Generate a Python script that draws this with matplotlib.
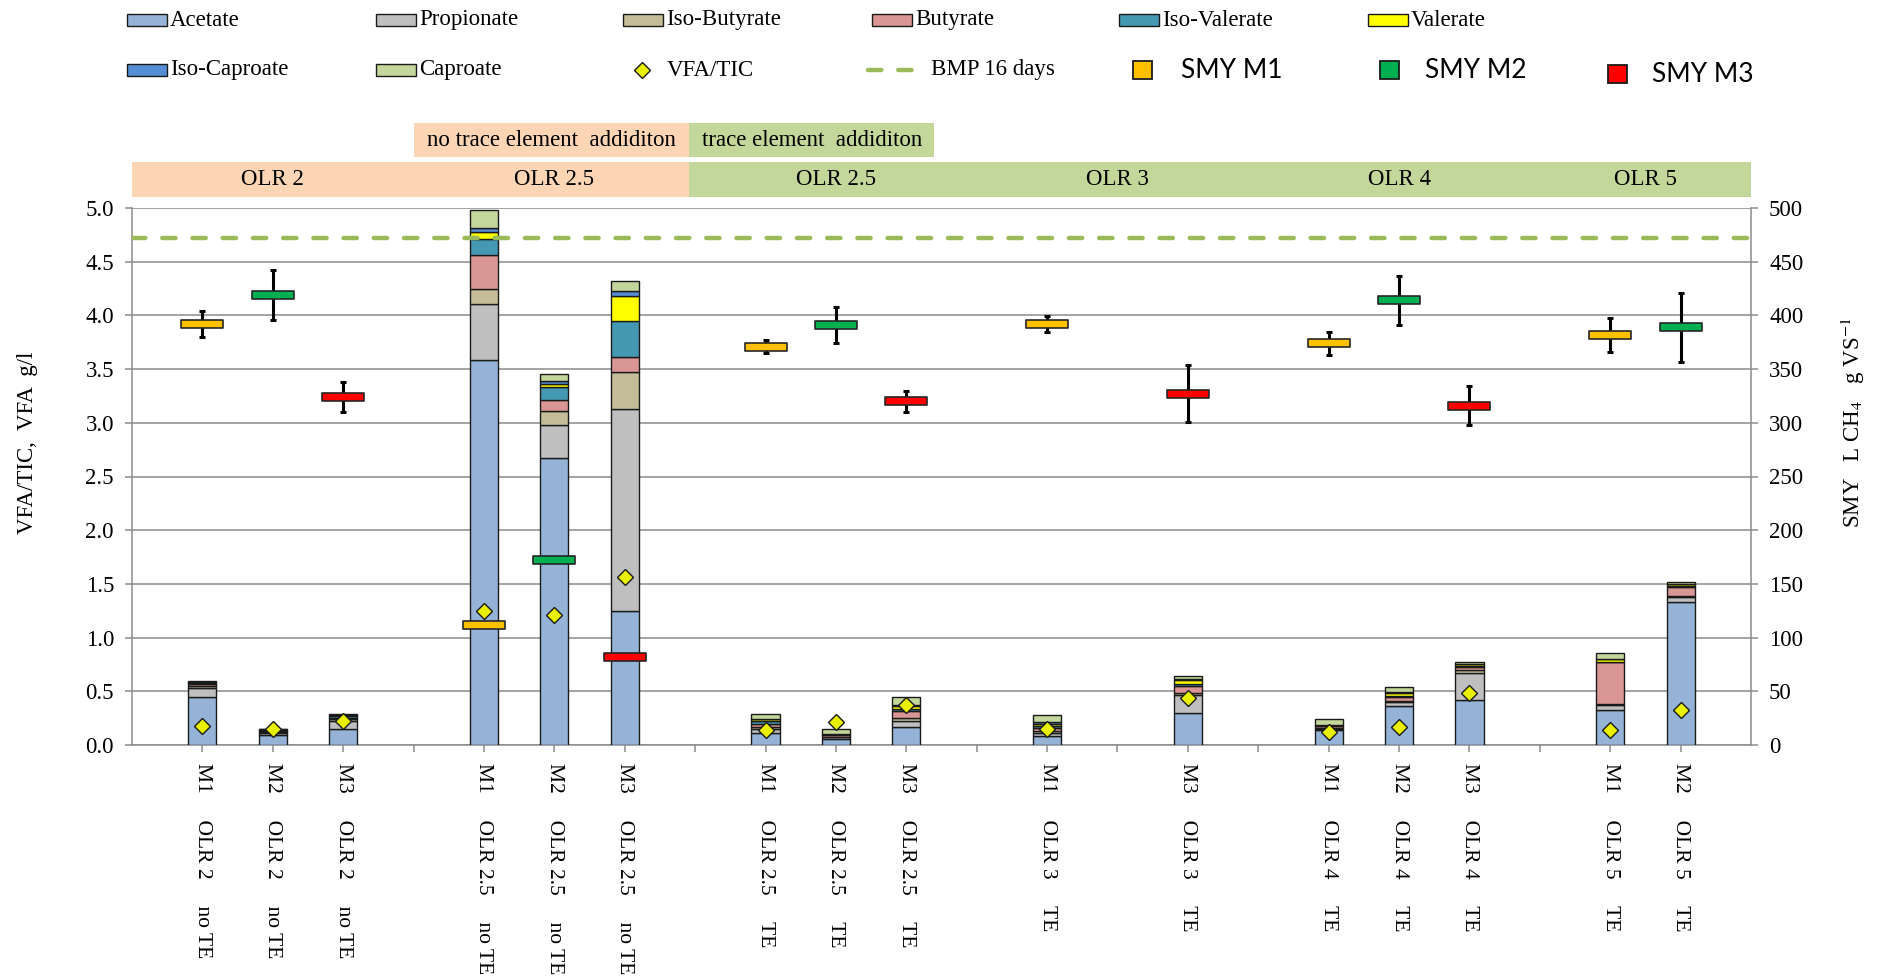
import numpy as np
import matplotlib
matplotlib.use('Agg')
import matplotlib.pyplot as plt
from matplotlib.patches import Rectangle
from matplotlib.lines import Line2D
from matplotlib.path import Path
import matplotlib.transforms as mtransforms

plt.rcParams['font.family'] = ['Liberation Serif', 'DejaVu Serif']
plt.rcParams['mathtext.fontset'] = 'stix'

nan = np.nan
SP = '     '
categories = [
    f'M1{SP}OLR 2{SP}no TE', f'M2{SP}OLR 2{SP}no TE', f'M3{SP}OLR 2{SP}no TE', '',
    f'M1{SP}OLR 2.5{SP}no TE', f'M2{SP}OLR 2.5{SP}no TE', f'M3{SP}OLR 2.5{SP}no TE', '',
    f'M1{SP}OLR 2.5{SP}TE', f'M2{SP}OLR 2.5{SP}TE', f'M3{SP}OLR 2.5{SP}TE', '',
    f'M1{SP}OLR 3{SP}TE', '', f'M3{SP}OLR 3{SP}TE', '',
    f'M1{SP}OLR 4{SP}TE', f'M2{SP}OLR 4{SP}TE', f'M3{SP}OLR 4{SP}TE', '',
    f'M1{SP}OLR 5{SP}TE', f'M2{SP}OLR 5{SP}TE',
]

acetate     = [0.45, 0.09, 0.15, 0, 3.585, 2.67, 1.25, 0, 0.11, 0.06, 0.165, 0, 0.08, 0, 0.295, 0, 0.14, 0.365, 0.415, 0, 0.325, 1.33]
propionate  = [0.08, 0.02, 0.07, 0, 0.525, 0.31, 1.88, 0, 0.04, 0.01, 0.055, 0, 0.035, 0, 0.17, 0, 0.01, 0.035, 0.26, 0, 0.045, 0.05]
isobutyrate = [0.02, 0.01, 0.02, 0, 0.14, 0.13, 0.34, 0, 0.02, 0.005, 0.03, 0, 0.02, 0, 0.015, 0, 0.01, 0.01, 0.025, 0, 0.01, 0.01]
butyrate    = [0.02, 0.01, 0.01, 0, 0.31, 0.10, 0.14, 0, 0.03, 0.02, 0.07, 0, 0.025, 0, 0.07, 0, 0.02, 0.035, 0.025, 0, 0.39, 0.08]
isovalerate = [0.01, 0.005, 0.02, 0, 0.15, 0.12, 0.34, 0, 0.02, 0.005, 0.015, 0, 0.02, 0, 0.02, 0, 0.005, 0.01, 0.015, 0, 0.005, 0.015]
valerate    = [0.005, 0.005, 0.005, 0, 0.07, 0.03, 0.23, 0, 0.02, 0.0, 0.03, 0, 0.02, 0, 0.035, 0, 0.005, 0.03, 0.01, 0, 0.03, 0.01]
isocaproate = [0.005, 0.005, 0.005, 0, 0.03, 0.03, 0.05, 0, 0.005, 0.0, 0.01, 0, 0.01, 0, 0.005, 0, 0.0, 0.005, 0.005, 0, 0.0, 0.005]
caproate    = [0.01, 0.005, 0.01, 0, 0.17, 0.06, 0.09, 0, 0.045, 0.05, 0.075, 0, 0.07, 0, 0.035, 0, 0.055, 0.05, 0.02, 0, 0.055, 0.015]

vfa_tic = [0.18, 0.15, 0.22, nan, 1.25, 1.21, 1.565, nan, 0.14, 0.21, 0.37, nan, 0.15, nan, 0.435, nan, 0.125, 0.165, 0.48, nan, 0.14, 0.325]

smy    = [392, 419, 324, nan, 112, 172, 82, nan, 371, 391, 320, nan, 392, nan, 327, nan, 374, 414, 316, nan, 382, 389]
smy_sd = [12.5, 23, 14, nan, 0, 0, 0, nan, 6, 17, 9.5, nan, 7, nan, 26.6, nan, 11, 23, 18, nan, 16, 32]

bmp_16_days = 472

components = [
    ('Acetate', acetate, '#95B3D7'),
    ('Propionate', propionate, '#BFBFBF'),
    ('Iso-Butyrate', isobutyrate, '#C4BD97'),
    ('Butyrate', butyrate, '#D99694'),
    ('Iso-Valerate', isovalerate, '#4598B1'),
    ('Valerate', valerate, '#FFFF00'),
    ('Iso-Caproate', isocaproate, '#558ED5'),
    ('Caproate', caproate, '#C3D69B'),
]
reactors = [('M1', 'SMY M1', '#FFC000'), ('M2', 'SMY M2', '#00B050'), ('M3', 'SMY M3', '#FF0000')]
diamond_color = '#E8F000'
bmp_color = '#9BBB59'
peach = '#FCD5B5'
green = '#C4D79B'
grid_gray = '#8C8C8C'

W, H = 1886, 977
fig = plt.figure(figsize=(W / 100, H / 100), dpi=100)
ax = fig.add_axes([132 / W, 1 - 745 / H, (1751 - 132) / W, (745 - 208) / H])
ax2 = ax.twinx()

x = np.arange(len(categories))
valid = np.array([c != '' for c in categories])
bottom = np.zeros(len(x))
for name, vals, col in components:
    v = np.array(vals, float)
    ax.bar(x[valid], v[valid], 0.4, bottom=bottom[valid], color=col,
           edgecolor='#1A1A1A', linewidth=1.0, zorder=3)
    bottom += v

ax.plot(x, vfa_tic, ls='none', marker='D', ms=8.5, mfc=diamond_color, mec='#1A1A1A', mew=1.0, zorder=6)

ax.set_xlim(-1, len(categories))
ax.set_ylim(0, 5)
ax.set_yticks(np.arange(0, 5.01, 0.5))
ax.set_yticklabels([f'{v:.1f}' for v in np.arange(0, 5.01, 0.5)], fontsize=16.5)
ax.set_xticks(x)
ax.set_xticklabels(categories, rotation=270, fontsize=15.5, va='top', ha='center')
ax.grid(axis='y', color=grid_gray, lw=1.1)
ax.set_axisbelow(True)
ax.tick_params(axis='y', direction='out', length=5, color=grid_gray, width=1.1, pad=8)
ax.tick_params(axis='x', direction='out', length=5, color=grid_gray, width=1.1, pad=8)
for s in ['left', 'bottom']:
    ax.spines[s].set_color(grid_gray)
    ax.spines[s].set_linewidth(1.1)
ax.spines['top'].set_visible(False)
ax.spines['right'].set_visible(False)

# secondary axis: SMY
ax2.set_ylim(0, 500)
ax2.set_yticks(np.arange(0, 501, 50))
ax2.set_yticklabels([str(v) for v in range(0, 501, 50)], fontsize=16.5)
ax2.tick_params(axis='y', direction='out', length=5, color=grid_gray, width=1.1, pad=8)
for s in ['left', 'top', 'bottom']:
    ax2.spines[s].set_visible(False)
ax2.spines['right'].set_color(grid_gray)
ax2.spines['right'].set_linewidth(1.1)

ax2.axhline(bmp_16_days, color=bmp_color, lw=3.2, dashes=(3.0, 3.8), dash_capstyle='round', zorder=2)

box_marker = Path([(-1, -0.2), (1, -0.2), (1, 0.2), (-1, 0.2), (-1, -0.2)],
                  [Path.MOVETO, Path.LINETO, Path.LINETO, Path.LINETO, Path.CLOSEPOLY])
smy_arr = np.array(smy, float)
sd_arr = np.array(smy_sd, float)
for key, lab, col in reactors:
    idx = np.array([i for i, c in enumerate(categories) if c.startswith(key) and not np.isnan(smy_arr[i])])
    e = idx[sd_arr[idx] > 0]
    ax2.errorbar(x[e], smy_arr[e], yerr=sd_arr[e], fmt='none', ecolor='black', elinewidth=2.2,
                 capsize=2.5, capthick=2.2, zorder=4)
    ax2.plot(x[idx], smy_arr[idx], ls='none', marker=box_marker, ms=30, mfc=col, mec='#262626',
             mew=1.2, zorder=5)

# header bands (x in data coords, y in figure coords)
bt = mtransforms.blended_transform_factory(ax.transData, fig.transFigure)
split = 6.92
row2 = (1 - 197 / H, (197 - 162) / H)
row1 = (1 - 157 / H, (157 - 123) / H)
for x0, x1, col in [(-1, split, peach), (split, len(categories), green)]:
    fig.add_artist(Rectangle((x0, row2[0]), x1 - x0, row2[1], transform=bt, facecolor=col, edgecolor='none'))
for x0, x1, col, txt in [(3.0, split, peach, 'no trace element  addiditon'), (split, 10.4, green, 'trace element  addiditon')]:
    fig.add_artist(Rectangle((x0, row1[0]), x1 - x0, row1[1], transform=bt, facecolor=col, edgecolor='none'))
    fig.text((x0 + x1) / 2, row1[0] + row1[1] / 2, txt, transform=bt, ha='center', va='center', fontsize=16.5)

groups = {}
for i, c in enumerate(categories):
    if c:
        parts = c.split(SP)
        groups.setdefault((parts[1], parts[2]), []).append(i)
for (olr, te), idxs in groups.items():
    fig.text((min(idxs) + max(idxs)) / 2, row2[0] + row2[1] / 2, olr, transform=bt,
             ha='center', va='center', fontsize=16.5)

# axis titles
fig.text(28 / W, 1 - 443 / H, 'VFA/TIC,  VFA  g/l', rotation=90, ha='center', va='center', fontsize=16.5)
fig.text(1853 / W, 1 - 423 / H, 'SMY   L CH$_4$   g VS$^{-1}$', rotation=90, ha='center', va='center', fontsize=16.5)

# legend (manual, Excel-like grid)
def fxy(px, py):
    return px / W, 1 - py / H

col_x = [127, 376, 623, 872, 1119, 1368]
legend_rows = [(components[:6], 20), (components[6:], 70)]
for items, yc in legend_rows:
    for (name, _, col), xl in zip(items, col_x):
        fx0, fy0 = fxy(xl, yc + 6)
        fig.add_artist(Rectangle((fx0, fy0), 40 / W, 12 / H, transform=fig.transFigure,
                                 facecolor=col, edgecolor='#1A1A1A', lw=1.0))
        fig.text(*fxy(xl + 43, yc), name, ha='left', va='center', fontsize=16.5)

fig.add_artist(Line2D([642 / W], [1 - 70 / H], transform=fig.transFigure, marker='D', ms=8.5,
                      mfc=diamond_color, mec='#1A1A1A', mew=1.0, ls='none'))
fig.text(*fxy(667, 70), 'VFA/TIC', ha='left', va='center', fontsize=16.5)
fig.add_artist(Line2D([868 / W, 926 / W], [1 - 70 / H, 1 - 70 / H], transform=fig.transFigure,
                      color=bmp_color, lw=3.2, dashes=(3.0, 3.8), dash_capstyle='round'))
fig.text(*fxy(931, 70), 'BMP 16 days', ha='left', va='center', fontsize=16.5)

smy_leg = [(1133, 1181, 70), (1380, 1425, 70), (1608, 1652, 74)]
for (key, lab, col), (px, tx, yc) in zip(reactors, smy_leg):
    fx0, fy0 = fxy(px, yc + 9)
    fig.add_artist(Rectangle((fx0, fy0), 19 / W, 18 / H, transform=fig.transFigure,
                             facecolor=col, edgecolor='#1A1A1A', lw=1.3))
    fig.text(*fxy(tx, yc), lab, ha='left', va='center', fontsize=19, family=['Lato', 'DejaVu Sans'])

fig.savefig('out.png', dpi=100)
